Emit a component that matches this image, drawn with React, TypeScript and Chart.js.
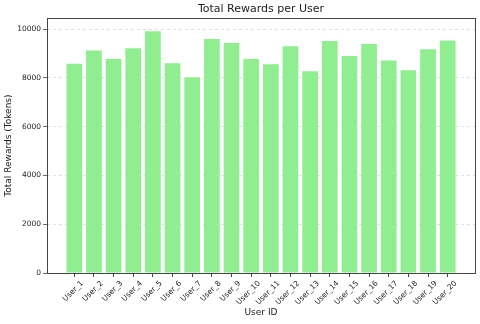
import React, { useEffect, useRef } from "react";
import { Chart, registerables } from "chart.js";

Chart.register(...registerables);

const users = [
  "User_1", "User_2", "User_3", "User_4", "User_5", "User_6", "User_7", "User_8", "User_9", "User_10",
  "User_11", "User_12", "User_13", "User_14", "User_15", "User_16", "User_17", "User_18", "User_19", "User_20",
];
const rewards = [
  8577, 9120, 8780, 9215, 9910, 8600, 8030, 9600, 9435, 8780,
  8560, 9300, 8275, 9515, 8900, 9395, 8710, 8315, 9175, 9530,
];
const yTicks = [0, 2000, 4000, 6000, 8000, 10000];

const FONT = "'DejaVu Sans', sans-serif";

const framePlugin = {
  id: "frame",
  afterDraw(chart: any) {
    const { ctx, chartArea } = chart;
    ctx.save();
    ctx.strokeStyle = "#444";
    ctx.lineWidth = 1;
    ctx.strokeRect(
      Math.round(chartArea.left) + 0.5,
      Math.round(chartArea.top) + 0.5,
      Math.round(chartArea.right - chartArea.left),
      Math.round(chartArea.bottom - chartArea.top)
    );
    ctx.restore();
  },
};

export default function App() {
  const ref = useRef<HTMLCanvasElement | null>(null);
  useEffect(() => {
    if (!ref.current) return;
    const chart = new Chart(ref.current, {
      type: "bar",
      data: {
        datasets: [
          {
            data: rewards.map((v, i) => ({ x: i, y: v })),
            backgroundColor: "#90EE90",
            borderWidth: 0,
            categoryPercentage: 0.8,
            barPercentage: 1,
          },
        ],
      },
      options: {
        animation: false,
        responsive: true,
        maintainAspectRatio: false,
        layout: { padding: { left: 0, right: 5, top: 0, bottom: 0 } },
        plugins: {
          legend: { display: false },
          tooltip: { enabled: false },
          title: {
            display: true,
            text: "Total Rewards per User",
            fullSize: false,
            color: "#222",
            font: { family: FONT, size: 11, weight: "normal" },
            padding: { top: 3, bottom: 2 },
          },
        },
        scales: {
          x: {
            type: "linear",
            offset: false,
            min: -1.39,
            max: 20.39,
            afterBuildTicks: (scale: any) => {
              scale.ticks = users.map((_, i) => ({ value: i }));
            },
            afterFit: (scale: any) => {
              scale.height = 51;
            },
            ticks: {
              autoSkip: false,
              maxRotation: 45,
              minRotation: 45,
              labelOffset: 8,
              padding: 2,
              color: "#222",
              font: { family: FONT, size: 7.5 },
              callback: (v: any) => users[v] ?? "",
            },
            grid: {
              offset: false,
              drawOnChartArea: false,
              drawTicks: true,
              tickLength: 4,
              tickColor: "#444",
            },
            border: { display: false },
            title: {
              display: true,
              text: "User ID",
              color: "#222",
              font: { family: FONT, size: 9 },
              padding: { top: 0, bottom: 6 },
            },
          },
          y: {
            min: 0,
            max: 10448,
            afterBuildTicks: (scale: any) => {
              scale.ticks = yTicks.map((v) => ({ value: v }));
            },
            afterFit: (scale: any) => {
              scale.width = 47;
            },
            ticks: {
              padding: 2,
              color: "#222",
              font: { family: FONT, size: 7.5 },
              callback: (v: any) => String(v),
            },
            grid: {
              color: "#d8d8d8",
              lineWidth: 0.8,
              drawTicks: true,
              tickLength: 4,
              tickColor: "#444",
            },
            border: { display: false, dash: [3, 3] },
            title: {
              display: true,
              text: "Total Rewards (Tokens)",
              color: "#222",
              font: { family: FONT, size: 9 },
              padding: { top: 3, bottom: 0 },
            },
          },
        },
      },
      plugins: [framePlugin],
    } as any);
    return () => chart.destroy();
  }, []);
  return (
    <div style={{ position: "absolute", left: 0, top: 0, width: 480, height: 324, background: "#fff" }}>
      <canvas ref={ref} />
    </div>
  );
}
